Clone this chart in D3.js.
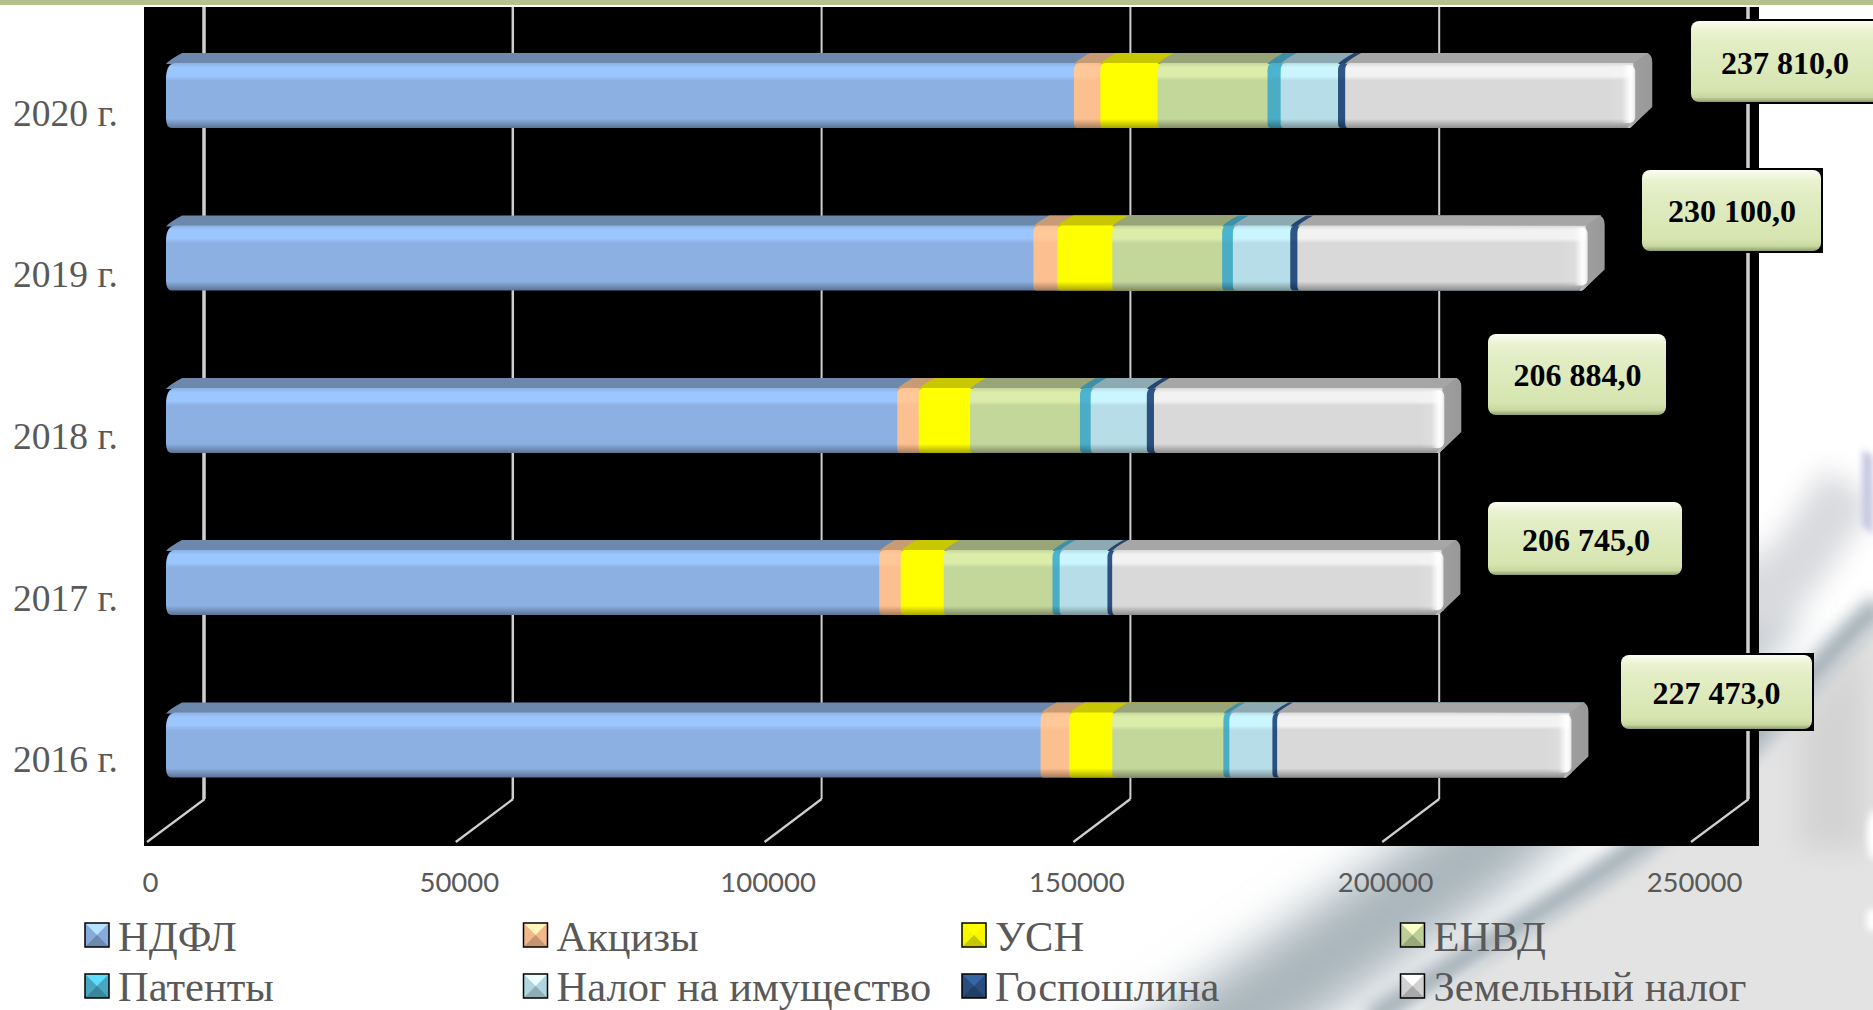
<!DOCTYPE html>
<html><head><meta charset="utf-8">
<script src="https://cdn.jsdelivr.net/npm/d3@7/dist/d3.min.js"></script>
<style>html,body{margin:0;padding:0;background:#fff;overflow:hidden}svg{display:block}</style>
</head><body><svg id="c" width="1873" height="1010"></svg>
<script>
const years = ["2016 г.","2017 г.","2018 г.","2019 г.","2020 г."];
const seriesNames = ["НДФЛ","Акцизы","УСН","ЕНВД","Патенты","Налог на имущество","Госпошлина","Земельный налог"];
const ndfl =    [141490,115360,118270,140330,146900];
const akcizy =  [4640,3480,3480,3870,4260];
const usn =     [6970,6970,8320,8900,9290];
const envd =    [18000,17610,17800,17800,17800];
const patenty = [970,1160,1740,1740,2130];
const imush =   [6970,7740,9090,9290,9290];
const gosp =    [770,770,1160,1160,1160];
const zemel =   [47663,53655,47024,47010,46980];
const totalLabels = ["227 473,0","206 745,0","206 884,0","230 100,0","237 810,0"];
const xTicks = [0,50000,100000,150000,200000,250000];
const seriesValues = [ndfl,akcizy,usn,envd,patenty,imush,gosp,zemel];

const mainCol = ["#8cb0e2","#fcbf8f","#ffff00","#c4d79b","#4bacc6","#b7dee8","#2a5080","#d9d9d9"];
const hiCol   = ["#9cc6ff","#ffc898","#ffff00","#dcedaa","#4bb4d0","#ccf6ff","#2f5688","#f2f2f2"];
const topCol  = ["#6c88ad","#c79b73","#c9c800","#97a579","#3f90a6","#8da9b1","#24466f","#a6a6a6"];

const svg = d3.select("#c");
const defs = svg.append("defs");
const x = d3.scaleLinear().domain([0,250000]).range([0,1543.5]);

// background
function blur(id,s){defs.append("filter").attr("id",id).attr("x","-40%").attr("y","-40%").attr("width","180%").attr("height","180%").append("feGaussianBlur").attr("stdDeviation",s);}
blur("b1",24);blur("b2",8);blur("b3",3);blur("b4",14);
const bg = svg.append("g");
bg.append("rect").attr("width",1873).attr("height",1010).attr("fill","#fff");
bg.append("path").attr("d","M1130,1090 L1264,1000 L1479,850 L1760,590").attr("fill","none").attr("stroke","#a9b5bb").attr("stroke-width",95).attr("filter","url(#b1)");
bg.append("path").attr("d","M1740,625 L1800,560 L1850,485").attr("fill","none").attr("stroke","#d9dade").attr("stroke-width",60).attr("filter","url(#b4)");
bg.append("path").attr("d","M1862,450 L1873,455 L1873,535 L1862,525 Z").attr("fill","#c9c9e2").attr("filter","url(#b3)");
bg.append("path").attr("d","M1390,1030 L1510,945 L1635,860 L1765,740 L1900,600 L1900,1030 Z").attr("fill","#e3e3e3").attr("filter","url(#b3)");
bg.append("path").attr("d","M1800,720 L1865,640 L1865,850 L1800,850 Z").attr("fill","#d3d3d3").attr("filter","url(#b4)");
bg.append("ellipse").attr("cx",1874).attr("cy",835).attr("rx",7).attr("ry",25).attr("fill","#fff").attr("filter","url(#b3)");
bg.append("ellipse").attr("cx",1872).attr("cy",920).attr("rx",6).attr("ry",12).attr("fill","#fff").attr("filter","url(#b3)");
bg.append("path").attr("d","M1370,1020 C1450,965 1540,915 1629,853 C1680,815 1720,775 1760,733 C1800,690 1830,650 1880,605")
  .attr("fill","none").attr("stroke","#a6b2b9").attr("stroke-width",24).attr("filter","url(#b2)");
bg.append("rect").attr("x",144).attr("y",7).attr("width",1615).attr("height",839).attr("fill","#000");
bg.append("rect").attr("width",1873).attr("height",5).attr("fill","#b4c28d");

// grid
const gridScale = d3.scaleLinear().domain(x.domain()).range([204,1748]);
const gridW = [3.5,2.5,2,2,2,3.5];
const grid = svg.append("g").attr("fill","none").attr("stroke","#cfcfcf");
xTicks.forEach((t,i)=>{
  const gx = gridScale(t);
  grid.append("path").attr("stroke-width",gridW[i]).attr("d",`M${gx},7 V799`);
  grid.append("path").attr("stroke-width",2.2).attr("d",`M${gx+gridW[i]/2-1},799 L${gx-57},842`);
});

// gradients
function frontGrad(id,m,h){
  const d = d3.rgb(m).darker(1.2).formatHex();
  const g = defs.append("linearGradient").attr("id",id).attr("x1",0).attr("y1",0).attr("x2",0).attr("y2",1);
  [[0,m],[.07,h],[.2,h],[.27,m],[.86,m],[1,d]].forEach(s=>g.append("stop").attr("offset",s[0]).attr("stop-color",s[1]));
}
mainCol.forEach((m,i)=>frontGrad("f"+i,m,hiCol[i]));
const endG = defs.append("linearGradient").attr("id","endG");
[[0,0],[.5,.12],[.8,.95],[1,.75]].forEach(s=>endG.append("stop").attr("offset",s[0]).attr("stop-color","#fff").attr("stop-opacity",s[1]));
const faceG = defs.append("linearGradient").attr("id","faceG");
[[0,"#c9c9c9"],[.3,"#9e9e9e"],[1,"#999"]].forEach(s=>faceG.append("stop").attr("offset",s[0]).attr("stop-color",s[1]));

// bars
const bx = 167, depth=17, rise=10, barH=75;
const barTops = [702.5,540,378,215.5,53];
const barsG = svg.append("g");
years.forEach((yr,yi)=>{
  const gy = barsG.append("g");
  const top = barTops[yi];
  const faceTop = top+rise, bot = top+barH;
  let cum = 0;
  const total = d3.sum(seriesValues,s=>s[yi]);
  const endX = bx + x(total);
  seriesValues.forEach((s,si)=>{
    const first = si===0;
    const x0 = bx + x(cum) - (first?1:0), x1 = endX;
    const r = first?10:5;
    gy.append("path").attr("fill",topCol[si])
      .attr("d",`M${x0},${faceTop+1} Q${x0+3},${faceTop-3} ${x0+depth-1},${top} H${x1+depth-4} L${x1},${faceTop} Z`);
    gy.append("path").attr("fill",`url(#f${si})`)
      .attr("d",`M${x0+r},${faceTop} Q${x0},${faceTop} ${x0},${faceTop+r*1.6} V${bot-r} Q${x0},${bot} ${x0+r*.6},${bot} H${x1-6} L${x1},${bot-5} V${faceTop} Z`);
    cum += s[yi];
  });
  gy.append("path").attr("fill","url(#faceG)")
    .attr("d",`M${endX-2},${faceTop} Q${endX+2},${faceTop-2} ${endX+depth-5},${top} Q${endX+depth},${top+2} ${endX+depth},${top+9} V${top+54} L${endX-5},${bot} H${endX-8} L${endX-2},${bot-8} Z`);
  gy.append("rect").attr("x",endX-26).attr("y",faceTop+2).attr("width",26).attr("height",barH-rise-7).attr("rx",6).attr("fill","url(#endG)");
});

// y labels
svg.append("g").selectAll("text").data(years).join("text")
  .attr("x",13).attr("y",(d,i)=>[772,610.5,448.5,286.5,125.5][i])
  .attr("font-family","Liberation Serif").attr("font-size",37.5).attr("fill","#595959").text(d=>d);

// x axis labels
const labelScale = d3.scaleLinear().domain(x.domain()).range([150,1694]);
const axisG = svg.append("g").attr("transform","translate(0,866)")
  .call(d3.axisBottom(labelScale).tickValues(xTicks).tickFormat(d3.format("d")).tickSize(0));
axisG.select(".domain").remove();
axisG.selectAll("text").attr("font-family","Lato").attr("font-size",27.5).attr("fill","#595959").attr("dy",0).attr("y",25.5);

// total labels
const boxes = [[1621,655,191,74],[1488,502,194,73],[1488,334,178,81],[1642,170,179,81],[1691,21,190,81]];
const bgG = defs.append("linearGradient").attr("id","boxG").attr("x1",0).attr("y1",0).attr("x2",0).attr("y2",1);
[[0,"#fbfdf2"],[.13,"#eaf2d0"],[.3,"#e2edc4"],[.85,"#d6e5b0"],[.94,"#c8d8a0"],[1,"#8e9c6e"]].forEach(s=>bgG.append("stop").attr("offset",s[0]).attr("stop-color",s[1]));
const labelCx = [1716.5,1586,1577.5,1732,1785];
const labelDy = [11.5,12,11,11,12];
const lab = svg.append("g");
totalLabels.forEach((t,i)=>{
  const b = boxes[i];
  lab.append("rect").attr("x",b[0]-1).attr("y",b[1]-2).attr("width",b[2]+3).attr("height",b[3]+4).attr("fill","#000");
  lab.append("rect").attr("x",b[0]).attr("y",b[1]).attr("width",b[2]).attr("height",b[3]).attr("rx",8).attr("fill","url(#boxG)");
  lab.append("text").attr("x",labelCx[i]).attr("y",b[1]+b[3]/2+labelDy[i]).attr("text-anchor","middle")
    .attr("font-family","Liberation Serif").attr("font-weight","bold").attr("font-size",32).attr("fill","#000").text(t);
});

// legend
const legX = [85,523.5,962,1400.5];
const legY = [923,974];
const leg = svg.append("g");
seriesNames.forEach((n,i)=>{
  const c=i%4, r=i<4?0:1;
  const sx=legX[c], sy=legY[r], w=24,h=24;
  const g=leg.append("g").attr("transform",`translate(${sx},${sy})`);
  const rgb=d3.rgb(mainCol[i]);
  g.append("rect").attr("width",w).attr("height",h).attr("fill",rgb.darker(.1).formatHex());
  g.append("path").attr("d",`M0,0 H${w} L${w/2},${h/2} Z`).attr("fill",rgb.brighter(.7).formatHex());
  g.append("path").attr("d",`M0,${h} H${w} L${w/2},${h/2} Z`).attr("fill",rgb.darker(.7).formatHex());
  g.append("rect").attr("width",w).attr("height",h).attr("fill","none").attr("stroke","#000").attr("stroke-width",1.5);
  leg.append("text").attr("x",sx+33).attr("y",r?1001:951).attr("font-family","Liberation Serif").attr("font-size",42.5).attr("fill","#595959").text(n);
});
</script></body></html>
